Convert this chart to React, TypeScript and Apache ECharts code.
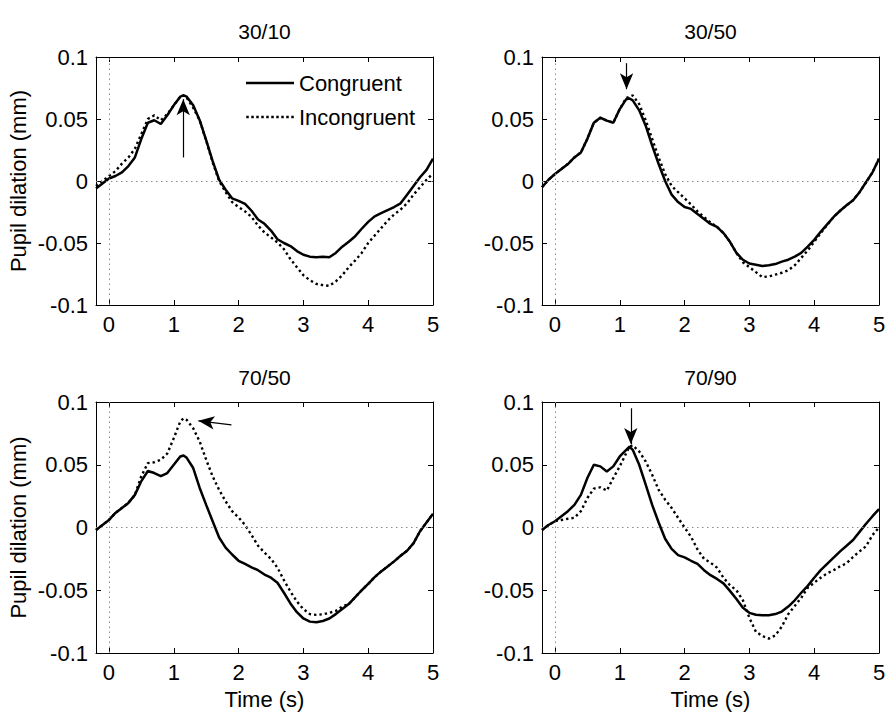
import React, { useEffect, useRef } from "react";
import * as echarts from "echarts";

// Time samples (s)
const TIME = [
  -0.2, -0.1, 0.0, 0.1, 0.2, 0.3, 0.4, 0.5, 0.6, 0.7, 0.8, 0.9, 1.0, 1.1, 1.15, 1.2,
  1.3, 1.4, 1.5, 1.6, 1.7, 1.8, 1.9, 2.0, 2.1, 2.2, 2.3, 2.4, 2.5, 2.6, 2.7, 2.8,
  2.9, 3.0, 3.1, 3.2, 3.3, 3.4, 3.5, 3.6, 3.7, 3.8, 3.9, 4.0, 4.1, 4.2, 4.3, 4.4,
  4.5, 4.6, 4.7, 4.8, 4.9, 5.0,
];

const PANEL_TITLES = ["30/10", "30/50", "70/50", "70/90"];
const SERIES_NAMES = ["Congruent", "Incongruent"];
const X_TICKS = [0, 1, 2, 3, 4, 5];

// 30/10
const CONG_30_10 = [
  -0.006, -0.002, 0.002, 0.004, 0.007, 0.012, 0.019, 0.034, 0.047, 0.049, 0.046, 0.053, 0.061, 0.068, 0.069, 0.068,
  0.061, 0.049, 0.033, 0.016, 0.001, -0.007, -0.014, -0.016, -0.0185, -0.024, -0.031, -0.0345, -0.04, -0.047, -0.05, -0.0525,
  -0.0565, -0.0595, -0.061, -0.0615, -0.061, -0.0615, -0.058, -0.053, -0.049, -0.0445, -0.0385, -0.033, -0.0285, -0.026, -0.0235, -0.021,
  -0.018, -0.011, -0.004, 0.003, 0.009, 0.018,
];
const INCONG_30_10 = [
  -0.004, 0.0, 0.004, 0.008, 0.014, 0.019, 0.026, 0.038, 0.05, 0.053, 0.049, 0.054, 0.061, 0.068, 0.069, 0.067,
  0.059, 0.049, 0.0325, 0.015, 0.0, -0.009, -0.017, -0.021, -0.0245, -0.029, -0.036, -0.0415, -0.0455, -0.0495, -0.055, -0.063,
  -0.0695, -0.076, -0.08, -0.083, -0.084, -0.0845, -0.081, -0.076, -0.0695, -0.064, -0.058, -0.05, -0.044, -0.038, -0.032, -0.027,
  -0.023, -0.018, -0.011, -0.005, 0.001, 0.006,
];

// 30/50
const CONG_30_50 = [
  -0.005, 0.001, 0.0056, 0.0097, 0.0137, 0.019, 0.023, 0.034, 0.047, 0.051, 0.0487, 0.047, 0.058, 0.066, 0.0665, 0.065,
  0.057, 0.0446, 0.0285, 0.0137, 0.0, -0.011, -0.017, -0.021, -0.0225, -0.0266, -0.0306, -0.0346, -0.037, -0.042, -0.049, -0.058,
  -0.0635, -0.0665, -0.0675, -0.0685, -0.068, -0.067, -0.065, -0.0635, -0.061, -0.058, -0.053, -0.0475, -0.041, -0.035, -0.029, -0.024,
  -0.0195, -0.0155, -0.009, -0.001, 0.007, 0.018,
];
const INCONG_30_50 = [
  -0.005, 0.001, 0.0056, 0.0097, 0.0137, 0.019, 0.023, 0.034, 0.047, 0.051, 0.0487, 0.047, 0.058, 0.067, 0.068, 0.069,
  0.062, 0.049, 0.034, 0.019, 0.0056, -0.004, -0.009, -0.014, -0.019, -0.0245, -0.029, -0.0335, -0.037, -0.042, -0.049, -0.058,
  -0.0655, -0.0695, -0.0735, -0.0775, -0.077, -0.0755, -0.074, -0.072, -0.068, -0.062, -0.056, -0.049, -0.042, -0.0355, -0.029, -0.024,
  -0.0195, -0.0155, -0.009, -0.001, 0.007, 0.018,
];

// 70/50
const CONG_70_50 = [
  -0.002, 0.002, 0.006, 0.0116, 0.0156, 0.0196, 0.026, 0.037, 0.045, 0.0434, 0.041, 0.0434, 0.05, 0.0566, 0.0574, 0.0555,
  0.0474, 0.0315, 0.018, 0.005, -0.008, -0.016, -0.0215, -0.0265, -0.029, -0.0317, -0.034, -0.0375, -0.04, -0.044, -0.052, -0.0605,
  -0.0675, -0.0725, -0.075, -0.0755, -0.0745, -0.0725, -0.069, -0.065, -0.061, -0.0555, -0.05, -0.045, -0.0395, -0.035, -0.031, -0.027,
  -0.0225, -0.0185, -0.0125, -0.003, 0.004, 0.011,
];
const INCONG_70_50 = [
  -0.002, 0.002, 0.006, 0.0116, 0.0156, 0.0196, 0.026, 0.041, 0.0513, 0.052, 0.054, 0.059, 0.0712, 0.0844, 0.087, 0.0857,
  0.079, 0.0685, 0.054, 0.0407, 0.03, 0.0209, 0.013, 0.008, 0.002, -0.006, -0.0145, -0.02, -0.025, -0.032, -0.042, -0.051,
  -0.059, -0.065, -0.069, -0.0696, -0.0692, -0.068, -0.0665, -0.063, -0.061, -0.0555, -0.05, -0.045, -0.0395, -0.035, -0.031, -0.027,
  -0.0225, -0.0185, -0.0125, -0.003, 0.004, 0.011,
];

// 70/90
const CONG_70_90 = [
  -0.002, 0.002, 0.005, 0.009, 0.013, 0.018, 0.026, 0.0394, 0.05, 0.0487, 0.0447, 0.0487, 0.0566, 0.0619, 0.0645, 0.0619,
  0.05, 0.0341, 0.018, 0.004, -0.009, -0.017, -0.022, -0.0238, -0.0265, -0.029, -0.034, -0.038, -0.041, -0.0445, -0.0505, -0.057,
  -0.064, -0.068, -0.0695, -0.07, -0.07, -0.069, -0.067, -0.063, -0.058, -0.052, -0.0465, -0.04, -0.034, -0.029, -0.024, -0.019,
  -0.0145, -0.01, -0.0035, 0.003, 0.009, 0.0146,
];
const INCONG_70_90 = [
  -0.002, 0.002, 0.005, 0.006, 0.007, 0.0077, 0.013, 0.0235, 0.031, 0.032, 0.0294, 0.0394, 0.0487, 0.0593, 0.0645, 0.0655,
  0.0606, 0.0526, 0.042, 0.03, 0.0222, 0.0156, 0.0077, 0.0, -0.0075, -0.0175, -0.025, -0.028, -0.032, -0.04, -0.046, -0.05,
  -0.058, -0.072, -0.083, -0.0865, -0.0885, -0.086, -0.079, -0.069, -0.0625, -0.056, -0.048, -0.044, -0.04, -0.0365, -0.034, -0.031,
  -0.0285, -0.0235, -0.019, -0.015, -0.006, 0.0,
];

const PANEL_DATA = [
  [CONG_30_10, INCONG_30_10],
  [CONG_30_50, INCONG_30_50],
  [CONG_70_50, INCONG_70_50],
  [CONG_70_90, INCONG_70_90],
];

// Annotation arrows per panel: [tail, tip] in data coordinates
const ARROWS = [
  [[1.146, 0.019], [1.146, 0.066]],
  [[1.105, 0.095], [1.105, 0.074]],
  [[1.89, 0.0817], [1.38, 0.085]],
  [[1.17, 0.095], [1.17, 0.0665]],
];

const FONT = "'Liberation Sans', Arial, Helvetica, sans-serif";

const GRIDS = [
  { left: 96, top: 57, width: 337, height: 248 },
  { left: 542, top: 57, width: 337, height: 248 },
  { left: 96, top: 402, width: 337, height: 251 },
  { left: 542, top: 402, width: 337, height: 251 },
];

// legend icons: a solid stroke and a row of dots (48 x 2.5 units)
const SOLID_ICON = "path://M0 0H48V2.5H0Z";
const DOT_ICON =
  "path://" +
  [0, 5, 10, 15, 20, 25, 30, 35, 40, 45]
    .map((x) => `M${x} 0h2.5v2.5h-2.5z`)
    .join(" ");

export default function App() {
  const ref = useRef<HTMLDivElement>(null);

  useEffect(() => {
    document.body.style.margin = "0";
    if (!ref.current) return;
    const chart = echarts.init(ref.current, undefined, { renderer: "svg" });

    const axisLine = { show: true, onZero: false, lineStyle: { color: "#000", width: 1 } };
    const tickStyle = { color: "#000", width: 1 };

    const xAxis: any[] = [];
    const yAxis: any[] = [];
    const series: any[] = [];

    GRIDS.forEach((g, i) => {
      const bottomRow = i >= 2;
      const leftCol = i % 2 === 0;
      xAxis.push({
        type: "value",
        gridIndex: i,
        min: -0.2,
        max: 5,
        position: "bottom",
        axisLine,
        axisTick: { show: true, inside: true, length: 5, customValues: X_TICKS, lineStyle: tickStyle },
        axisLabel: { customValues: X_TICKS, fontSize: 22, color: "#000", margin: 8, fontFamily: FONT },
        splitLine: { show: false },
        name: bottomRow ? "Time (s)" : "",
        nameLocation: "middle",
        nameGap: 35,
        nameTextStyle: { fontSize: 22, color: "#000", fontFamily: FONT },
      });
      yAxis.push({
        type: "value",
        gridIndex: i,
        min: -0.1,
        max: 0.1,
        interval: 0.05,
        position: "left",
        axisLine,
        axisTick: { show: true, inside: true, length: 5, lineStyle: tickStyle },
        axisLabel: { fontSize: 22, color: "#000", margin: 8, fontFamily: FONT },
        splitLine: { show: false },
        name: leftCol ? "Pupil dilation (mm)" : "",
        nameLocation: "middle",
        nameGap: 67,
        nameTextStyle: { fontSize: 22, color: "#000", fontFamily: FONT },
      });
    });
    GRIDS.forEach((g, i) => {
      xAxis.push({
        type: "value",
        gridIndex: i,
        min: -0.2,
        max: 5,
        position: "top",
        axisLine,
        axisTick: { show: true, inside: true, length: 5, customValues: X_TICKS, lineStyle: tickStyle },
        axisLabel: { show: false },
        splitLine: { show: false },
      });
      yAxis.push({
        type: "value",
        gridIndex: i,
        min: -0.1,
        max: 0.1,
        interval: 0.05,
        position: "right",
        axisLine,
        axisTick: { show: true, inside: true, length: 5, lineStyle: tickStyle },
        axisLabel: { show: false },
        splitLine: { show: false },
      });
    });

    PANEL_DATA.forEach((pair, i) => {
      const [cong, incong] = pair;
      const arrow = ARROWS[i];
      series.push({
        type: "line",
        name: SERIES_NAMES[1],
        xAxisIndex: i,
        yAxisIndex: i,
        data: TIME.map((t, k) => [t, incong[k]]),
        symbol: "none",
        showSymbol: false,
        z: 2,
        lineStyle: { color: "#000", width: 2.4, type: [2.4, 3] },
        itemStyle: { color: "#000" },
        markLine: {
          silent: true,
          symbol: ["none", "none"],
          label: { show: false },
          lineStyle: { color: "#8a8a8a", width: 1, type: [1.5, 3.5] },
          data: [
            { xAxis: 0 },
            { yAxis: 0 },
            [
              { coord: arrow[0], symbol: "none", lineStyle: { color: "#000", width: 1.2, type: "solid" } },
              { coord: arrow[1], symbol: "arrow", symbolSize: [10, 16] },
            ],
          ],
        },
      });
      series.push({
        type: "line",
        name: SERIES_NAMES[0],
        xAxisIndex: i,
        yAxisIndex: i,
        data: TIME.map((t, k) => [t, cong[k]]),
        symbol: "none",
        showSymbol: false,
        z: 3,
        lineStyle: { color: "#000", width: 2.5 },
        itemStyle: { color: "#000" },
      });
    });

    const option: any = {
      animation: false,
      backgroundColor: "#fff",
      textStyle: { fontFamily: FONT },
      title: PANEL_TITLES.map((t, i) => ({
        text: t,
        left: GRIDS[i].left + GRIDS[i].width / 2,
        top: i < 2 ? 21 : 367,
        textAlign: "center",
        padding: 0,
        textStyle: { fontSize: 21, fontWeight: "normal", color: "#000", fontFamily: FONT },
      })),
      legend: {
        data: [
          { name: SERIES_NAMES[0], icon: SOLID_ICON },
          { name: SERIES_NAMES[1], icon: DOT_ICON },
        ],
        orient: "vertical",
        left: 246,
        top: 72,
        itemWidth: 48,
        itemHeight: 2.5,
        itemGap: 12,
        padding: 0,
        itemStyle: { color: "#000", borderWidth: 0 },
        textStyle: { fontSize: 22, color: "#000", fontFamily: FONT, lineHeight: 22 },
      },
      grid: GRIDS.map((g) => ({ ...g, containLabel: false })),
      xAxis,
      yAxis,
      series,
    };

    chart.setOption(option);
    return () => chart.dispose();
  }, []);

  return (
    <div
      ref={ref}
      style={{ width: 892, height: 719, position: "absolute", left: 0, top: 0, background: "#fff" }}
    />
  );
}
